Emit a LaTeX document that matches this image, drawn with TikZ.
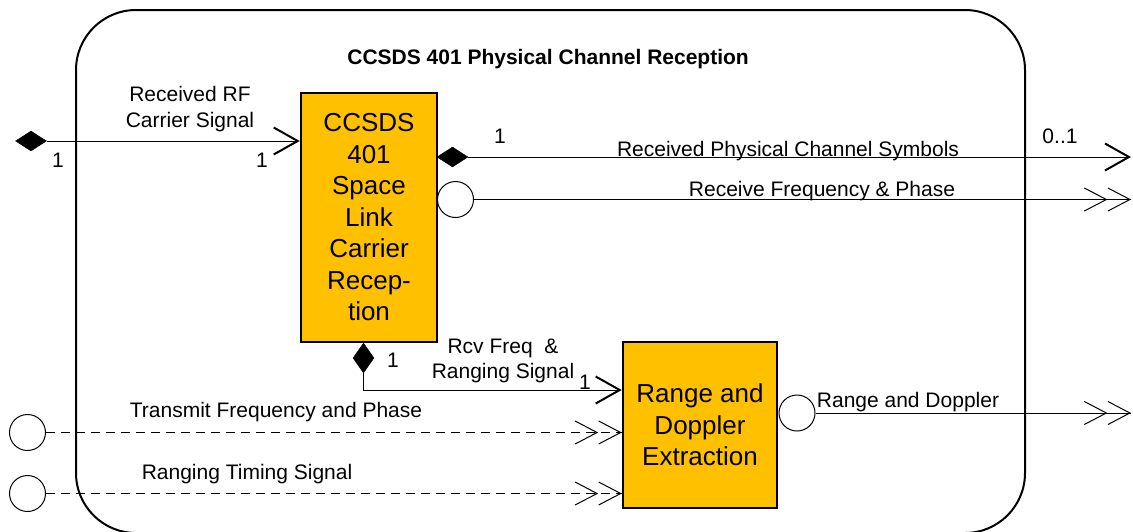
\documentclass[tikz,border=0pt]{standalone}
\usepackage{fontspec}
\setmainfont{Liberation Sans}
\usepackage{xcolor}
\usepackage{tikz}
\usetikzlibrary{shapes.geometric, arrows.meta, positioning, calc}
\definecolor{ccsdsorange}{HTML}{FFC000}
\tikzstyle{LABEL} = [draw=none, align=center, inner sep=0pt, yshift=-2pt,
                     font=\fontsize{21}{25.5}\selectfont]
\tikzstyle{BLOCK} = [draw=black,         % color for LINES
                     line width=2.5pt,   % control line width.
                     fill=ccsdsorange,   % Fill-in the box.
                     align=center,
                     rectangle,          % Box shape
                     inner sep=0pt,
                     font=\fontsize{26}{31.5}\selectfont]
\tikzstyle{FRAME} = [draw=black,
                     line width=2pt,
                     rounded corners=60pt]
\tikzstyle{DIAM}  = [diamond, draw=black, fill=black, inner sep=0pt,
                     minimum width=31pt, minimum height=20pt]
\tikzstyle{PORT}  = [circle, draw=black, fill=white, line width=1pt,
                     inner sep=0pt, minimum size=36pt]
\tikzstyle{ARROW}  = [line width=1pt, -{Straight Barb[length=24pt, width=27pt, line width=2pt]}]
\tikzstyle{DARROW} = [line width=1pt,
                      -{Straight Barb[length=22pt, width=23pt] Straight Barb[length=22pt, width=23pt]},
                      postaction={draw, -}]  % line runs through both heads
\tikzstyle{DASHLINE} = [dash pattern=on 9pt off 6pt]

\begin{document}
\begin{tikzpicture}[x=1pt, y=-1pt]

		\useasboundingbox (0,0) rectangle (1133,531);

		% Outer frame
		\draw[FRAME] (76,10) rectangle (1025,533);
		\node(title)[LABEL, font=\fontsize{21}{25}\selectfont\bfseries] at (551,57)
		{
			CCSDS 401 Physical Channel Reception
		};



		% The two functions
		\node(carrier)[BLOCK, minimum width=136pt, minimum height=249pt] at (369,217.5)
		{
			CCSDS\\401\\Space\\Link\\Carrier\\Recep-\\tion
		};
		\node(doppler)[BLOCK, minimum width=154pt, minimum height=166pt] at (700,425)
		{
			Range and\\Doppler\\Extraction
		};



		% Ends of the connectors
		\node(rfin)[DIAM] at (31,141) {};
		\node(symout)[DIAM] at (452.5,157) {};
		\node(rfpout)[PORT] at (455.5,199.5) {};
		\node(rngout)[DIAM, minimum width=21pt, minimum height=30pt] at (363.5,358) {};
		\node(txin)[PORT] at (27.5,432.5) {};
		\node(rtin)[PORT] at (27.5,493.5) {};
		\node(rdout)[PORT] at (797,413) {};
		\coordinate(symend) at (1131,157);
		\coordinate(rfpend) at (1131,199.5);
		\coordinate(rdend) at (1131,413);



		% Received RF carrier signal
		\draw[ARROW] (rfin.east) -- (rfin.east -| carrier.west);
		\node(rflbl)[LABEL] at (190,107) {Received RF\\Carrier Signal};
		\node(rfone)[LABEL] at (58,158) {1};
		\node(rftwo)[LABEL] at (262,158) {1};
		% Received physical channel symbols
		\draw[ARROW] (symout.east) -- (symend);
		\node(symlbl)[LABEL] at (788,149) {Received Physical Channel Symbols};
		\node(symone)[LABEL] at (500,134) {1};
		\node(symmax)[LABEL] at (1060,134) {0..1};
		% Receive frequency and phase
		\draw[DARROW] (rfpout.east) -- (rfpend);
		\node(rfplbl)[LABEL] at (822,189) {Receive Frequency \& Phase};
		% Rcv freq to range and doppler
		\draw[ARROW] (rngout.south) |- ([yshift=35pt]doppler.west);
		\node(rnglbl)[LABEL] at (503,359) {Rcv Freq\ \ \&\\Ranging Signal};
		\node(rngone)[LABEL] at (393,358) {1};
		\node(rngtwo)[LABEL] at (585,380) {1};
		% Dashed inputs
		\draw[DARROW, DASHLINE] (txin.east) -- (txin.east -| doppler.west);
		\node(txlbl)[LABEL] at (276,410) {Transmit Frequency and Phase};
		\draw[DARROW, DASHLINE] (rtin.east) -- (rtin.east -| doppler.west);
		\node(rtlbl)[LABEL] at (247,472) {Ranging Timing Signal};
		% Range and doppler out
		\draw[DARROW] (rdout.east) -- (rdend);
		\node(rdlbl)[LABEL] at (908,400) {Range and Doppler};

\end{tikzpicture}
\end{document}
